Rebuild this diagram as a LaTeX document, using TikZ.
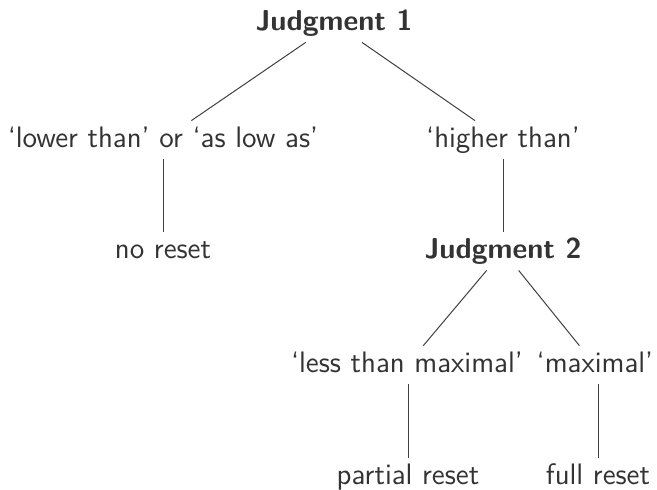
\documentclass[tikz,border=0pt]{standalone}
\begin{document}
\begin{tikzpicture}[x=0.5pt,y=-0.5pt,
    every node/.style={font=\sffamily\fontsize{14.8}{17}\selectfont,text=black!80,
      anchor=base,text height=10pt,text depth=3pt,inner sep=3pt},
    judg/.style={font=\sffamily\bfseries\fontsize{14.4}{17}\selectfont}]
      \useasboundingbox (0,0) rectangle (657,489);
      \draw
        (334,30) node[judg] (j1){Judgment 1}
        (163,147) node (low){`lower than' or `as low as'}
        (503,147) node (high){`higher than'}
        (163,258) node (nor){no reset}
        (503,258) node[judg] (j2){Judgment 2}
        (407,372) node (less){`less than maximal'}
        (595,372) node (max){`maximal'}
        (408,484) node (part){partial reset}
        (598,484) node (full){full reset};
      \begin{scope}[-,line width=0.5pt,draw=black!75]
        \draw (j1) to (low);
        \draw (j1) to (high);
        \draw (low.south) to (nor.north);
        \draw (high.south) to (j2.north);
        \draw (j2) to (less);
        \draw (j2) to (max);
        \draw (less.south -| part) to (part.north);
        \draw (max.south -| full) to (full.north);
      \end{scope}
    \end{tikzpicture}
\end{document}
